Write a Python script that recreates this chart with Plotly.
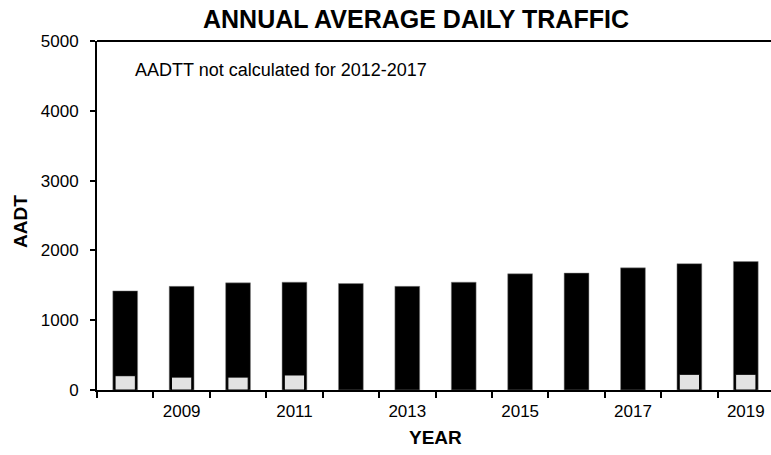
import plotly.graph_objects as go

years = [2008, 2009, 2010, 2011, 2012, 2013, 2014, 2015, 2016, 2017, 2018, 2019]
aadt = [1420, 1485, 1535, 1545, 1525, 1485, 1545, 1665, 1675, 1750, 1810, 1840]
aadtt_years = [2008, 2009, 2010, 2011, 2018, 2019]
aadtt = [205, 185, 185, 215, 225, 225]
x_label_years = [2009, 2011, 2013, 2015, 2017, 2019]
boundaries = [y - 0.5 for y in years]
y_ticks = [0, 1000, 2000, 3000, 4000, 5000]

FONT = "Liberation Sans, Arial, sans-serif"
W, H = 776, 455
# plot area in page pixels (right edge lies just past the 771 px window, as in the reference)
PX0, PX1, PY0, PY1 = 97, 774, 41, 390
L, T = PX0, PY0
R, B = W - PX1, H - PY1
PW, PH = W - L - R, H - T - B


def px_x(px):
    return (px - L) / PW


def px_y(py):
    return (H - B - py) / PH


fig = go.Figure()
fig.add_trace(go.Bar(x=years, y=aadt, width=0.44,
                     marker=dict(color="black", line=dict(color="#888888", width=0.5)), name="AADT"))
fig.add_trace(go.Bar(x=aadtt_years, y=aadtt, width=0.36,
                     marker=dict(color="#e3e3e3", line=dict(color="black", width=1)), name="AADTT"))

fig.update_layout(
    width=W, height=H,
    margin=dict(l=L, r=R, t=T, b=B),
    barmode="overlay",
    showlegend=False,
    plot_bgcolor="white", paper_bgcolor="white",
    font=dict(family=FONT, color="black", size=17),
    shapes=[dict(type="line", xref="paper", yref="paper", x0=0, x1=1, y0=1, y1=1,
                 line=dict(color="black", width=2))],
    annotations=[
        dict(text="<b>ANNUAL AVERAGE DAILY TRAFFIC</b>", xref="paper", yref="paper",
             x=px_x(416), y=px_y(19), xanchor="center", yanchor="middle", showarrow=False,
             font=dict(size=25, family=FONT, color="black")),
        dict(text="AADTT not calculated for 2012-2017", xref="paper", yref="paper",
             x=px_x(133), y=px_y(70), xanchor="left", yanchor="middle",
             showarrow=False, font=dict(size=18, family=FONT, color="black")),
        dict(text="<b>YEAR</b>", xref="paper", yref="paper", x=px_x(435), y=px_y(437),
             xanchor="center", yanchor="middle", showarrow=False,
             font=dict(size=19, family=FONT, color="black")),
        dict(text="<b>AADT</b>", xref="paper", yref="paper", x=px_x(20), y=px_y(222),
             xanchor="center", yanchor="middle", textangle=-90, showarrow=False,
             font=dict(size=19, family=FONT, color="black")),
    ],
)
fig.update_xaxes(
    range=[2007.5, 2019.5], tickmode="array", tickvals=x_label_years,
    ticktext=[str(v) for v in x_label_years], automargin=False,
    ticks="", showline=True, linecolor="black", linewidth=2, mirror=False, showgrid=False, zeroline=False,
    tickfont=dict(size=17, family=FONT, color="black"), ticklabelstandoff=5,
    minor=dict(tickmode="array", tickvals=boundaries, ticks="outside", ticklen=6, tickwidth=1.5,
               tickcolor="black", showgrid=False),
)
fig.update_yaxes(
    range=[0, 5000], tickmode="array", tickvals=y_ticks, ticks="outside", ticklen=5, tickwidth=1.5,
    tickcolor="black", automargin=False, mirror=False,
    showline=True, linecolor="black", linewidth=2, showgrid=False, zeroline=False,
    tickfont=dict(size=17, family=FONT, color="black"), ticklabelstandoff=8,
)

fig.write_html("out.html", config={"displayModeBar": False},
               post_script="document.body.style.margin='0';document.body.style.overflow='hidden';"
                           "document.documentElement.style.overflow='hidden';")
